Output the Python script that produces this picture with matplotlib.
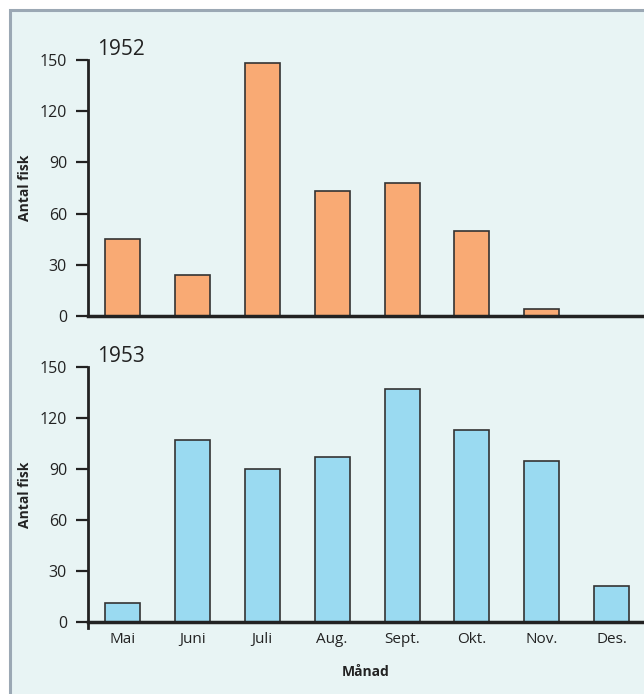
import matplotlib
matplotlib.use("Agg")
import matplotlib.pyplot as plt
from matplotlib.patches import Rectangle
import numpy as np

months = ["Mai", "Juni", "Juli", "Aug.", "Sept.", "Okt.", "Nov.", "Des."]
fish_1952 = [45, 24, 148, 73, 78, 50, 4, 0]
fish_1953 = [11, 107, 90, 97, 137, 113, 95, 21]
yticks = [0, 30, 60, 90, 120, 150]

plt.rcParams['font.family'] = ['Open Sans', 'DejaVu Sans']

W, H = 644, 694
fig = plt.figure(figsize=(W / 100, H / 100), dpi=100)
fig.patch.set_facecolor("white")

bg = "#e8f4f4"
border = Rectangle((10 / W, -0.2), 1.5, 1.2 - 10 / H, transform=fig.transFigure,
                   facecolor=bg, edgecolor="#9ba8b4", linewidth=2.2, zorder=-10)
fig.patches.append(border)

x = np.arange(len(months))

def setup(ax, vals, color, year, show_x):
    ax.set_facecolor("none")
    ax.bar(x, vals, width=0.5, color=color, edgecolor="#333333", linewidth=1.2, zorder=2)
    ax.set_ylim(0, 150)
    ax.set_xlim(-0.49, 7.46)
    ax.set_yticks(yticks)
    ax.tick_params(axis="y", direction="out", length=8.6, width=1.6, labelsize=11.5,
                   colors="#222222", pad=6.5)
    for s in ["top", "right"]:
        ax.spines[s].set_visible(False)
    ax.spines["left"].set_linewidth(2)
    ax.spines["bottom"].set_linewidth(2.5)
    ax.spines["left"].set_color("#222222")
    ax.spines["bottom"].set_color("#222222")
    ax.set_ylabel("Antal fisk", fontsize=10, fontweight="bold", color="#222222")
    ax.yaxis.set_label_coords(-0.1007, 0.5)
    if show_x:
        ax.set_xticks(x)
        ax.set_xticklabels(months)
        ax.tick_params(axis="x", length=0, labelsize=11, pad=7, colors="#222222")
        ax.set_xlabel("Månad", fontsize=10, fontweight="bold", labelpad=13, color="#222222")
        ax.plot([0, 0], [0, -0.025], transform=ax.transAxes, clip_on=False,
                color="#222222", linewidth=2)
    else:
        ax.set_xticks([])
    ax.text(0.016, 1.02, year, transform=ax.transAxes, fontsize=15,
            ha="left", va="baseline", color="#222222")

ax1 = fig.add_axes([88 / W, 1 - 316 / H, 1 - 88 / W, 256 / H])
ax2 = fig.add_axes([88 / W, 1 - 622 / H, 1 - 88 / W, 255 / H])
setup(ax1, fish_1952, "#f9aa74", "1952", False)
setup(ax2, fish_1953, "#9adaf1", "1953", True)

fig.savefig("out.png", dpi=100, facecolor=fig.get_facecolor())
